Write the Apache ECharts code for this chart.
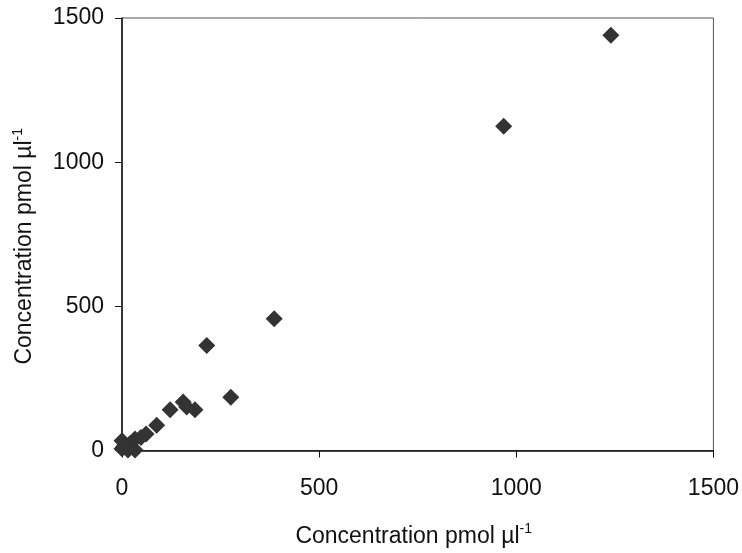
<!DOCTYPE html>
<html><head><meta charset="utf-8">
<script src="https://cdn.jsdelivr.net/npm/echarts@6/dist/echarts.min.js"></script>
<style>html,body{margin:0;padding:0;background:#fff}#c{width:742px;height:553px}</style>
</head><body><div id="c"></div>
<script>
const xValues = [1240, 968, 386, 215, 276, 122, 155, 164, 185, 88, 61, 48, 0, 0, 20, 33, 33, 15, 5];
const yValues = [1440, 1125, 457, 364, 185, 141, 168, 151, 141, 88, 57, 45, 34, 6, 23, 40, 2, 2, 15];
const xTicks = [0, 500, 1000, 1500];
const yTicks = [0, 500, 1000, 1500];
const axisTitle = 'Concentration pmol µl';
const axisTitleSup = '-1';

const points = xValues.map((x, i) => [x, yValues[i]]);
const font = 'Liberation Sans, Arial, sans-serif';
function nameStyle(pad) {
  return {
    padding: pad,
    rich: {
      b: {fontSize: 23, fontFamily: font, color: '#111'},
      s: {fontSize: 14, fontFamily: font, color: '#111', verticalAlign: 'top', padding: [0, 0, 14, 0]}
    }
  };
}
const labelFmt = v => String(v);
const chart = echarts.init(document.getElementById('c'));
chart.setOption({
  animation: false,
  grid: {left: 122, right: 28, top: 18, bottom: 97, show: true, borderColor: '#555', borderWidth: 1},
  xAxis: {
    type: 'value', min: xTicks[0], max: xTicks[xTicks.length - 1], interval: 500,
    name: '{b|' + axisTitle + '}{s|' + axisTitleSup + '}', nameLocation: 'middle', nameGap: 72,
    nameTextStyle: nameStyle([0, 8, 0, 0]),
    axisLine: {show: true, lineStyle: {color: '#111', width: 1.5}},
    axisTick: {show: true, length: 7, lineStyle: {color: '#111'}},
    axisLabel: {fontSize: 23, fontFamily: font, color: '#111', margin: 27, formatter: labelFmt},
    splitLine: {show: false}
  },
  yAxis: {
    type: 'value', min: yTicks[0], max: yTicks[yTicks.length - 1], interval: 500,
    name: '{b|' + axisTitle + '}{s|' + axisTitleSup + '}', nameLocation: 'middle', nameGap: 83,
    nameTextStyle: nameStyle([0, 24, 0, 0]),
    axisLine: {show: true, lineStyle: {color: '#111', width: 1.5}},
    axisTick: {show: true, length: 7, lineStyle: {color: '#111'}},
    axisLabel: {fontSize: 23, fontFamily: font, color: '#111', margin: 18, formatter: labelFmt},
    splitLine: {show: false}
  },
  series: [{
    type: 'scatter', data: points, symbol: 'diamond', symbolSize: [17, 17],
    itemStyle: {color: '#333', opacity: 1}
  }]
});
</script></body></html>
